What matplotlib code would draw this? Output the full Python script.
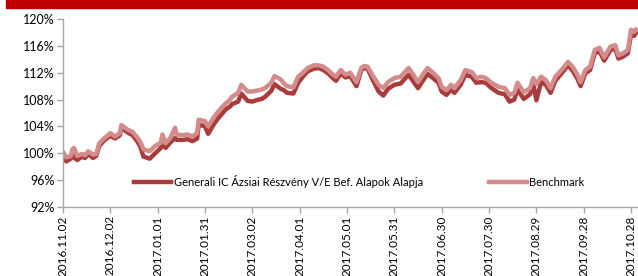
import numpy as np
import pandas as pd
import matplotlib
matplotlib.use("Agg")
import matplotlib.pyplot as plt
import matplotlib.dates as mdates
from matplotlib.patches import Rectangle

plt.rcParams['font.family'] = ['Lato', 'DejaVu Sans']

# Data (percent of start value)
dates = [
    "2016-11-02", "2016-11-04", "2016-11-07", "2016-11-08", "2016-11-09", "2016-11-11",
    "2016-11-14", "2016-11-16", "2016-11-18", "2016-11-21", "2016-11-23", "2016-11-25",
    "2016-11-28", "2016-12-02", "2016-12-05", "2016-12-08", "2016-12-09", "2016-12-13",
    "2016-12-16", "2016-12-19", "2016-12-21", "2016-12-23", "2016-12-27", "2016-12-30",
    "2017-01-03", "2017-01-04", "2017-01-06", "2017-01-09", "2017-01-12", "2017-01-13",
    "2017-01-17", "2017-01-20", "2017-01-23", "2017-01-26", "2017-01-27", "2017-01-31",
    "2017-02-02", "2017-02-06", "2017-02-09", "2017-02-13", "2017-02-16", "2017-02-17",
    "2017-02-21", "2017-02-23", "2017-02-27", "2017-03-02", "2017-03-06", "2017-03-08",
    "2017-03-10", "2017-03-14", "2017-03-16", "2017-03-20", "2017-03-22", "2017-03-24",
    "2017-03-28", "2017-03-31", "2017-04-03", "2017-04-06", "2017-04-10", "2017-04-13",
    "2017-04-16", "2017-04-19", "2017-04-22", "2017-04-24", "2017-04-27", "2017-04-30",
    "2017-05-03", "2017-05-07", "2017-05-10", "2017-05-12", "2017-05-14", "2017-05-17",
    "2017-05-21", "2017-05-24", "2017-05-27", "2017-05-31", "2017-06-04", "2017-06-09",
    "2017-06-12", "2017-06-15", "2017-06-18", "2017-06-21", "2017-06-24", "2017-06-28",
    "2017-06-30", "2017-07-03", "2017-07-06", "2017-07-08", "2017-07-12", "2017-07-15",
    "2017-07-19", "2017-07-22", "2017-07-25", "2017-07-28", "2017-07-31", "2017-08-05",
    "2017-08-09", "2017-08-12", "2017-08-15", "2017-08-17", "2017-08-21", "2017-08-25",
    "2017-08-27", "2017-08-29", "2017-09-01", "2017-09-04", "2017-09-07", "2017-09-10",
    "2017-09-15", "2017-09-18", "2017-09-21", "2017-09-24", "2017-09-26", "2017-09-29",
    "2017-10-02", "2017-10-05", "2017-10-08", "2017-10-11", "2017-10-15", "2017-10-18",
    "2017-10-20", "2017-10-23", "2017-10-26", "2017-10-28", "2017-10-30", "2017-10-31",
]

benchmark = [
    100.2, 99.4, 99.6, 100.6, 100.8, 99.6,
    99.9, 99.7, 100.3, 99.8, 99.9, 101.5,
    102.2, 103.0, 102.5, 103.0, 104.2, 103.5,
    103.2, 102.4, 101.7, 100.6, 100.3, 101.0,
    101.6, 102.8, 101.5, 102.3, 103.8, 102.8,
    102.7, 102.8, 102.5, 103.0, 105.0, 104.8,
    104.0, 105.5, 106.4, 107.4, 108.0, 108.4,
    109.0, 110.2, 109.2, 109.2, 109.4, 109.5,
    109.7, 110.5, 111.5, 111.0, 110.4, 110.0,
    109.8, 111.4, 112.0, 112.7, 113.1, 113.1,
    112.9, 112.4, 111.7, 111.4, 112.4, 111.7,
    112.0, 110.6, 112.7, 113.0, 112.9, 111.7,
    110.2, 109.7, 110.6, 111.2, 111.4, 112.7,
    111.7, 110.6, 111.7, 112.7, 112.1, 111.2,
    109.9, 109.4, 110.2, 109.7, 110.9, 112.4,
    112.1, 111.2, 111.4, 111.2, 110.6, 109.9,
    109.7, 108.7, 109.0, 110.5, 109.1, 109.7,
    111.2, 110.3, 111.4, 110.9, 109.7, 111.4,
    112.7, 113.6, 112.9, 111.7, 110.6, 112.4,
    112.9, 115.4, 115.7, 114.3, 115.9, 116.1,
    114.6, 114.9, 115.4, 118.4, 118.1, 118.4,
]

fund = [
    100.0, 98.8, 99.2, 100.0, 99.4, 99.0,
    99.5, 99.3, 99.9, 99.3, 99.6, 101.1,
    101.9, 102.6, 102.2, 102.7, 103.8, 103.1,
    102.7, 101.8, 101.0, 99.5, 99.2, 99.9,
    100.8, 101.6, 100.8, 101.6, 102.3, 102.0,
    102.0, 102.1, 101.8, 102.2, 104.3, 104.0,
    102.9, 104.5, 105.4, 106.5, 107.0, 107.3,
    107.7, 108.9, 107.8, 107.7, 108.0, 108.1,
    108.4, 109.3, 110.3, 109.6, 109.4, 109.0,
    108.9, 110.5, 111.4, 112.2, 112.6, 112.7,
    112.4, 111.9, 111.2, 110.8, 111.9, 111.3,
    111.5, 110.0, 112.4, 112.7, 112.6, 111.1,
    109.2, 108.6, 109.6, 110.2, 110.4, 111.7,
    110.7, 109.7, 110.8, 111.8, 111.3, 110.5,
    109.2, 108.7, 109.5, 109.0, 110.2, 111.7,
    111.4, 110.5, 110.6, 110.5, 109.8, 109.0,
    108.8, 107.7, 108.0, 109.5, 108.1, 108.8,
    110.3, 107.9, 110.6, 110.2, 109.0, 110.8,
    112.2, 113.1, 112.3, 111.1, 110.0, 111.9,
    112.4, 114.9, 115.2, 113.8, 115.4, 115.6,
    114.1, 114.4, 114.9, 117.8, 117.5, 117.9,
]

fund_label = "Generali IC Ázsiai Részvény V/E Bef. Alapok Alapja"
bench_label = "Benchmark"
tick_dates = pd.date_range("2016-11-02", periods=13, freq="30D")
y_ticks = [92, 96, 100, 104, 108, 112, 116, 120]

x = pd.to_datetime(dates)

fig = plt.figure(figsize=(6.38, 2.76), dpi=100)
ax = fig.add_axes([63/638, 0.25, 1 - 63/638, 1 - 0.25 - 19/276])

# red header strip
fig.patches.append(Rectangle((6/638, 1 - 8/276), 632/638, 8/276,
                             transform=fig.transFigure, color="#C00000", zorder=0))

ax.plot(x, fund, color="#AA3B3B", lw=3.2, label=fund_label, solid_joinstyle="round")
ax.plot(x, benchmark, color="#D38B8B", lw=3.2, label=bench_label, solid_joinstyle="round")

ax.set_ylim(92, 120)
ax.set_yticks(y_ticks)
ax.set_yticklabels([f"{v}%" for v in y_ticks], fontsize=9)
ax.set_xlim(tick_dates[0], tick_dates[0] + pd.Timedelta(days=364.4))
ax.set_xticks(tick_dates)
ax.set_xticklabels([d.strftime("%Y.%m.%d") for d in tick_dates], rotation=90, fontsize=8.5)

for s in ["top", "right"]:
    ax.spines[s].set_visible(False)
for s in ["left", "bottom"]:
    ax.spines[s].set_color("#A6A6A6")
    ax.spines[s].set_linewidth(1.0)
ax.tick_params(axis="both", color="#A6A6A6", length=4, width=1, pad=2)

leg = ax.legend(loc="center", bbox_to_anchor=(0.515, 0.138), ncol=2, frameon=False,
                fontsize=8, handlelength=3.4, columnspacing=6.0, handletextpad=0.2)

fig.savefig("out.png", dpi=100)
